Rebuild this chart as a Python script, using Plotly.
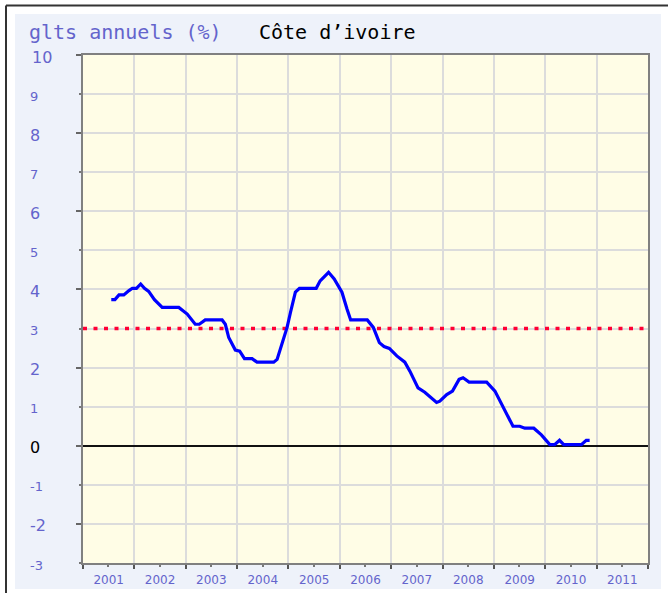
import plotly.graph_objects as go

# Annual growth rate (%) - Côte d'ivoire
dates = [
    "2001-07-21", "2001-08-16", "2001-09-14", "2001-10-18", "2001-11-24", "2001-12-18",
    "2002-01-16", "2002-02-15", "2002-03-14", "2002-04-13", "2002-05-24", "2002-07-18",
    "2002-11-13", "2003-01-12", "2003-03-10", "2003-04-08", "2003-05-20", "2003-09-17",
    "2003-10-10", "2003-11-03", "2003-12-20", "2004-01-20", "2004-02-23", "2004-04-17",
    "2004-05-22", "2004-09-18", "2004-10-12", "2004-11-17", "2004-12-22", "2005-01-15",
    "2005-02-19", "2005-03-20", "2005-07-17", "2005-08-14", "2005-10-13", "2005-11-22",
    "2006-01-16", "2006-02-21", "2006-03-19", "2006-07-15", "2006-08-27", "2006-10-09",
    "2006-11-11", "2006-12-19", "2007-02-10", "2007-04-08", "2007-05-14", "2007-07-11",
    "2007-08-28", "2007-11-20", "2007-12-13", "2008-01-31", "2008-03-12", "2008-04-28",
    "2008-05-26", "2008-07-08", "2008-11-10", "2009-01-08", "2009-03-18", "2009-05-16",
    "2009-07-03", "2009-08-08", "2009-10-11", "2009-12-04", "2010-02-02", "2010-03-08",
    "2010-04-12", "2010-05-12", "2010-09-14", "2010-10-19", "2010-11-12",
]
growth = [
    3.74, 3.74, 3.86, 3.86, 3.97, 4.03,
    4.03, 4.14, 4.03, 3.95, 3.74, 3.54,
    3.54, 3.37, 3.11, 3.11, 3.22, 3.22,
    3.11, 2.77, 2.45, 2.42, 2.23, 2.23,
    2.14, 2.14, 2.21, 2.64, 3.03, 3.41,
    3.93, 4.03, 4.03, 4.22, 4.44, 4.27,
    3.93, 3.50, 3.22, 3.22, 3.03, 2.64,
    2.54, 2.49, 2.30, 2.14, 1.91, 1.48,
    1.37, 1.11, 1.14, 1.31, 1.40, 1.70,
    1.74, 1.63, 1.63, 1.40, 0.93, 0.50,
    0.50, 0.45, 0.45, 0.28, 0.03, 0.03,
    0.14, 0.03, 0.03, 0.14, 0.14,
]
target = 3
y_ticks = list(range(-3, 11))
x_range = ["2001-01-01", "2012-01-01"]

W, H = 668, 593
L, R, T, B = 83, 20, 55, 30
PW, PH = W - L - R, H - T - B

BLUE_TXT = "#6464CC"
PANEL = "#EEF2FA"
PLOT_BG = "#FFFDE6"
GRID = "#DCDCDC"


def px(x):
    return (x - L) / PW


def py(y):
    return (H - B - y) / PH


fig = go.Figure()

fig.add_trace(go.Scatter(
    x=x_range, y=[target, target], mode="lines",
    line=dict(color="#FF0033", width=3.5, dash="4px,6.5px"),
    hoverinfo="skip", showlegend=False,
))
fig.add_trace(go.Scatter(
    x=dates, y=growth, mode="lines",
    line=dict(color="#0000FF", width=3.2),
    showlegend=False,
))

shapes = [
    # white surround outside the panel
    dict(type="rect", xref="paper", yref="paper", x0=px(0), x1=px(W), y0=py(0), y1=py(14),
         fillcolor="white", line_width=0, layer="below"),
    dict(type="rect", xref="paper", yref="paper", x0=px(661), x1=px(W), y0=py(0), y1=py(H),
         fillcolor="white", line_width=0, layer="below"),
    dict(type="rect", xref="paper", yref="paper", x0=px(0), x1=px(W), y0=py(589), y1=py(H),
         fillcolor="white", line_width=0, layer="below"),
    dict(type="rect", xref="paper", yref="paper", x0=px(0), x1=px(15), y0=py(0), y1=py(H),
         fillcolor="white", line_width=0, layer="below"),
    # outer frame
    dict(type="line", xref="paper", yref="paper", x0=px(6), x1=px(W), y0=py(5.5), y1=py(5.5),
         line=dict(color="#333333", width=2)),
    dict(type="line", xref="paper", yref="paper", x0=px(6), x1=px(6), y0=py(5.5), y1=py(H),
         line=dict(color="#333333", width=2)),
]

annotations = [
    dict(text="glts annuels (%)", xref="paper", yref="paper", x=px(27), y=py(32),
         xanchor="left", yanchor="middle", showarrow=False,
         font=dict(family="DejaVu Sans Mono", size=20, color=BLUE_TXT)),
    dict(text="Côte d’ivoire", xref="paper", yref="paper", x=px(257), y=py(32),
         xanchor="left", yanchor="middle", showarrow=False,
         font=dict(family="DejaVu Sans Mono", size=20, color="black")),
]
for v in y_ticks:
    even = v % 2 == 0
    annotations.append(dict(
        text=str(v), xref="paper", yref="y", x=px(28 if v != 10 else 30), y=v,
        xanchor="left", yanchor="middle", showarrow=False, yshift=-2,
        font=dict(family="DejaVu Sans", size=16 if even else 13,
                  color="black" if v == 0 else BLUE_TXT),
    ))

fig.update_layout(
    width=W, height=H,
    margin=dict(l=L, r=R, t=T, b=B, pad=0, autoexpand=False),
    paper_bgcolor=PANEL, plot_bgcolor=PLOT_BG,
    shapes=shapes, annotations=annotations,
    xaxis=dict(
        type="date", range=x_range, dtick="M12", tick0="2001-01-01",
        ticklabelmode="period", tickformat="%Y", ticklabelstandoff=1,
        automargin=False,
        ticks="outside", ticklen=4, tickwidth=1.5, tickcolor="#555555",
        showgrid=True, gridcolor=GRID, gridwidth=1.5,
        showline=True, linecolor="#808080", linewidth=2, mirror=True,
        tickfont=dict(family="DejaVu Sans", size=12, color=BLUE_TXT),
        minor=dict(dtick="M6", tick0="2001-01-01", ticks="outside", ticklen=2,
                   tickcolor="#777777", showgrid=False),
        zeroline=False,
    ),
    yaxis=dict(
        range=[-3, 10], dtick=2, tick0=0, automargin=False,
        ticks="outside", ticklen=5, tickwidth=1.5, tickcolor="#666666",
        showticklabels=False,
        showgrid=True, gridcolor=GRID, gridwidth=1.5,
        showline=True, linecolor="#808080", linewidth=2, mirror=True,
        minor=dict(dtick=1, tick0=0, ticks="outside", ticklen=2, tickcolor="#777777",
                   showgrid=True, gridcolor=GRID, gridwidth=1.5),
        zeroline=True, zerolinecolor="#111111", zerolinewidth=1.5,
    ),
)

fig.write_html("out.html")
